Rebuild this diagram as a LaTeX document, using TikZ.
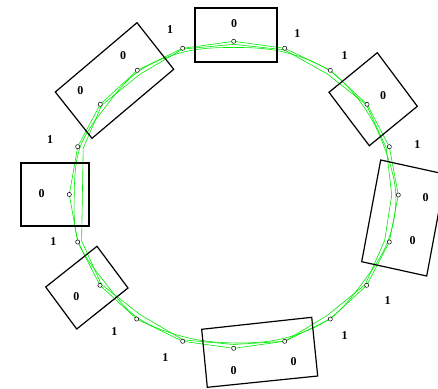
\documentclass[tikz,border=0pt]{standalone}
\usepackage{fontspec}
\setmainfont{Liberation Serif}
\usetikzlibrary{calc}
\definecolor{ringgreen}{RGB}{0,235,0}
\begin{document}
\begin{tikzpicture}[x=1pt,y=-1pt,
  boxline/.style={draw=black,line width=1.2pt,line join=miter},
  ringline/.style={draw=ringgreen,line width=0.6pt},
  dotpt/.style={draw=black,fill=white,line width=0.5pt},
  lab/.style={font=\fontsize{12}{13}\selectfont\bfseries,inner sep=0pt}]
\useasboundingbox (0,0) rectangle (438,388);
\coordinate (c) at (234,195);
% ring points
\foreach \i/\x/\y in {0/233.7/41.3,1/182.7/48.3,2/137.3/70.3,3/100.3/104.3,4/77.7/146.7,
  5/69.3/194.5,6/77.7/242,7/100/285.3,8/136.7/319,9/182.7/341.3,10/233.7/348.3,
  11/284.7/341.3,12/330.3/319,13/366.7/285.3,14/389.3/242,15/398.3/195,
  16/389.3/146.7,17/367/104.3,18/330.3/70.3,19/284.7/48.3}
  {\coordinate (p\i) at (\x,\y);}
% jittered copies
\foreach \i/\s in {0/0.98,1/0.995,2/0.97,3/0.99,4/0.965,5/0.95,6/0.975,7/0.99,8/0.965,9/0.99,
  10/0.975,11/1.0,12/0.97,13/0.99,14/0.97,15/0.96,16/0.98,17/0.995,18/0.97,19/0.99}
  {\coordinate (q\i) at ($(c)!\s!(p\i)$);}
\foreach \i/\s in {0/0.96,1/0.975,2/0.99,3/0.965,4/0.985,5/0.97,6/0.995,7/0.965,8/0.99,9/0.97,
  10/0.965,11/0.98,12/0.995,13/0.97,14/0.99,15/0.985,16/0.97,17/0.975,18/0.995,19/0.975}
  {\coordinate (r\i) at ($(c)!\s!(p\i)$);}
% green estimates of the ring
\draw[ringline] (p0)--(p1)--(p2)--(p3)--(p4)--(p5)--(p6)--(p7)--(p8)--(p9)--(p10)--(p11)--(p12)--(p13)--(p14)--(p15)--(p16)--(p17)--(p18)--(p19)--cycle;
\draw[ringline] (q0)--(q1)--(q2)--(q3)--(q4)--(q6)--(q7)--(q8)--(q9)--(q10)--(q11)--(q12)--(q13)--(q14)--(q15)--(q16)--(q17)--(q18)--(q19)--cycle;
\draw[ringline] plot[smooth cycle,tension=0.6] coordinates {(r0) (r1) (r2) (r3) (r4) (r5) (r6) (r7) (r8) (r9) (r10) (r11) (r12) (r13) (r14) (r15) (r16) (r17) (r18) (r19)};
% points
\foreach \i in {0,...,19} {\draw[dotpt] (p\i) circle (2.1);}
% boxes
\draw[boxline] (195,8) rectangle (277,62);
\draw[boxline] (137,22.7)--(173.7,69.3)--(92,138.3)--(55.3,92)--cycle;
\draw[boxline] (377.3,52.7)--(417.3,106.3)--(369.3,145.7)--(329,92.3)--cycle;
\draw[boxline] (380.7,160)--(445.7,174.3)--(426.7,276)--(361.7,261.7)--cycle;
\draw[boxline] (21,163) rectangle (89,226);
\draw[boxline] (97,246.3)--(128,288)--(76.7,329)--(45.7,287)--cycle;
\draw[boxline] (201.7,329.3)--(311.7,317.3)--(317.7,376)--(207.3,387.3)--cycle;
% labels 0
\foreach \n/\x/\y in {a/234/24,b/123/56,c/80.3/91,d/383/96,e/425.7/198,f/412.7/241,
  g/41.7/193.3,h/76.3/296.3,i/233.5/371,j/293.7/362}
  {\node[lab] (z\n) at (\x,\y) {0};}
% labels 1
\foreach \n/\x/\y in {a/170/29.3,b/297.3/34,c/344.7/56,d/417.3/145,e/50/140,f/53.3/242,
  g/114.3/331.3,h/165.3/358,i/387.7/300.3,j/344.7/335.7}
  {\node[lab] (o\n) at (\x,\y) {1};}
\end{tikzpicture}
\end{document}
